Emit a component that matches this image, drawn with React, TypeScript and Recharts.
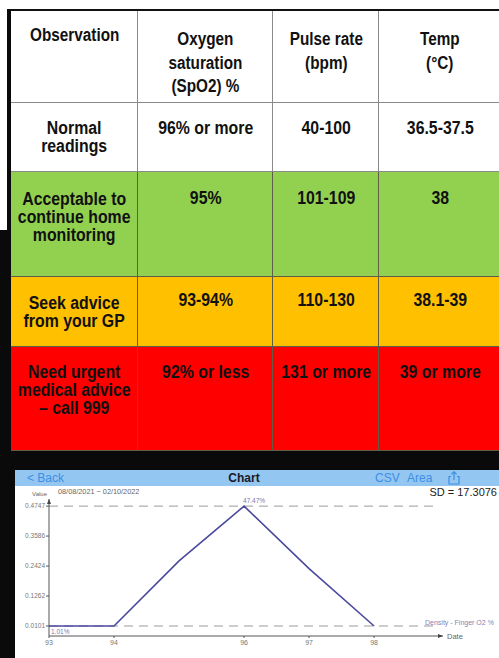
import React from 'react';
import { LineChart, Line, XAxis, YAxis, ReferenceLine, LabelList } from 'recharts';

// ---------- table content ----------
const headers = ['Observation', 'Oxygen\nsaturation\n(SpO2) %', 'Pulse rate\n(bpm)', 'Temp\n(°C)'];
const rowLabels = [
  'Normal\nreadings',
  'Acceptable to\ncontinue home\nmonitoring',
  'Seek advice\nfrom your GP',
  'Need urgent\nmedical advice\n– call 999',
];
const spo2Values = ['96% or more', '95%', '93-94%', '92% or less'];
const pulseValues = ['40-100', '101-109', '110-130', '131 or more'];
const tempValues = ['36.5-37.5', '38', '38.1-39', '39 or more'];

// ---------- chart content ----------
const o2Levels = [93, 94, 95, 96, 97, 98];
const density = [0.0101, 0.0101, 0.2626, 0.4747, 0.2323, 0.0101];
const xTicks = [93, 94, 96, 97, 98];
const yTicks = [0.0101, 0.1262, 0.2424, 0.3586, 0.4747];
const refLevels = [0.4747, 0.0101];
const seriesName = 'Density - Finger O2 %';
const dateRange = '08/08/2021 ~ 02/10/2022';
const sdText = 'SD = 17.3076';
const navItems = ['< Back', 'Chart', 'CSV', 'Area'];

// ---------- layout / styles ----------
const colEdges = [11, 138, 273, 379, 501];
const rowEdges = [10, 103, 172, 277, 347, 451];
const rowColors = ['#ffffff', '#ffffff', '#92d050', '#ffc000', '#fe0000'];
const tableFont = "'Liberation Sans', Arial, sans-serif";
const appFont = "'Liberation Sans', Arial, Helvetica, sans-serif";
const labelPad = [16, 18, 17, 16];
const valuePad = [16, 17, 14, 16];

const data = o2Levels.map((x, i) => ({ x, y: density[i] }));
const maxVal = Math.max(...density);

function Cell({ r, c, text }: { r: number; c: number; text: string }) {
  const left = colEdges[c];
  const top = rowEdges[r];
  const w = colEdges[c + 1] - left;
  const h = rowEdges[r + 1] - top;
  const isHeader = r === 0;
  const lh = isHeader ? 23.5 : 18;
  const pad = isHeader ? (c === 0 ? 14 : 18) : c === 0 ? labelPad[r - 1] : valuePad[r - 1];
  const scale = isHeader ? 0.85 : 0.88;
  const innerW = w / scale + 40;
  const lineCol = r >= 2 ? '#5e5e48' : '#8a8a8a';
  return (
    <div
      style={{
        position: 'absolute',
        left,
        top,
        width: w,
        height: h,
        boxSizing: 'border-box',
        background: rowColors[r],
        borderRight: '1px solid ' + lineCol,
        borderBottom: '1px solid ' + lineCol,
        paddingTop: pad,
        overflow: 'hidden',
      }}
    >
      <div
        style={{
          width: innerW,
          marginLeft: (w - innerW) / 2,
          transform: `scaleX(${scale})`,
          transformOrigin: 'center top',
          textAlign: 'center',
          whiteSpace: 'pre',
          fontFamily: tableFont,
          fontWeight: 700,
          fontSize: 18,
          lineHeight: lh + 'px',
          color: '#111',
        }}
      >
        {text}
      </div>
    </div>
  );
}

const XAxisArrow = (props: any) => {
  const vb = props.viewBox || {};
  const x = vb.x + vb.width;
  const y = vb.y;
  return (
    <g>
      <polygon points={`${x},${y} ${x - 5},${y - 2} ${x - 5},${y + 2}`} fill="#444" />
      <text x={x + 4} y={y + 2.5} fontSize={7.5} fill="#666" fontFamily={appFont}>
        Date
      </text>
    </g>
  );
};

const YAxisArrow = (props: any) => {
  const vb = props.viewBox || {};
  const x = vb.x + vb.width;
  const y = vb.y;
  return (
    <g>
      <polygon points={`${x},${y} ${x - 2},${y + 5} ${x + 2},${y + 5}`} fill="#444" />
      <text x={x - 2} y={y - 3} fontSize={6} fill="#666" textAnchor="end" fontFamily={appFont}>
        Value
      </text>
    </g>
  );
};

const PointLabel = (props: any) => {
  const { x, y, value, index } = props;
  if (index === 0) {
    return (
      <text x={x + 2} y={y + 8} fontSize={6.5} fill="#7a78b0" fontFamily={appFont}>
        {(value * 100).toFixed(2) + '%'}
      </text>
    );
  }
  if (value === maxVal) {
    return (
      <text x={x - 1} y={y - 3} fontSize={6.5} fill="#7a78b0" fontFamily={appFont}>
        {(value * 100).toFixed(2) + '%'}
      </text>
    );
  }
  return null;
};

function ShareIcon() {
  return (
    <svg width={12} height={14} viewBox="0 0 12 14" style={{ position: 'absolute', left: 448, top: 471 }}>
      <path d="M3 5.5 H1 V13 H11 V5.5 H9" fill="none" stroke="#3d8fe6" strokeWidth={1.2} />
      <path d="M6 0.8 V9" fill="none" stroke="#3d8fe6" strokeWidth={1.2} />
      <path d="M3.5 3.2 L6 0.8 L8.5 3.2" fill="none" stroke="#3d8fe6" strokeWidth={1.2} />
    </svg>
  );
}

export default function App() {
  const cells: React.ReactNode[] = [];
  headers.forEach((h, c) => cells.push(<Cell key={'h' + c} r={0} c={c} text={h} />));
  rowLabels.forEach((lab, i) => {
    const r = i + 1;
    cells.push(<Cell key={'l' + i} r={r} c={0} text={lab} />);
    cells.push(<Cell key={'s' + i} r={r} c={1} text={spo2Values[i]} />);
    cells.push(<Cell key={'p' + i} r={r} c={2} text={pulseValues[i]} />);
    cells.push(<Cell key={'t' + i} r={r} c={3} text={tempValues[i]} />);
  });

  return (
    <div
      style={{
        position: 'absolute',
        left: 0,
        top: 0,
        width: 499,
        height: 658,
        overflow: 'hidden',
        background: '#ffffff',
      }}
    >
      {/* table */}
      {cells}
      {/* table top border */}
      <div style={{ position: 'absolute', left: 7, top: 9, width: 500, height: 2, background: '#111' }} />
      {/* left thick border */}
      <div style={{ position: 'absolute', left: 7, top: 9, width: 4, height: 230, background: '#0a0a0a' }} />
      <div style={{ position: 'absolute', left: 0, top: 230, width: 11, height: 430, background: '#0a0a0a' }} />
      {/* dark band below table */}
      <div style={{ position: 'absolute', left: 0, top: 451, width: 499, height: 207, background: '#0a0a0a' }} />

      {/* app panel */}
      <div style={{ position: 'absolute', left: 15, top: 470, width: 484, height: 188, background: '#ffffff' }} />
      <div style={{ position: 'absolute', left: 15, top: 470, width: 484, height: 16, background: '#93c6f1' }} />
      <div style={{ position: 'absolute', left: 27, top: 471, fontFamily: appFont, fontSize: 12, color: '#3d8fe6', lineHeight: '14px' }}>
        {navItems[0]}
      </div>
      <div
        style={{
          position: 'absolute',
          left: 214,
          width: 60,
          top: 471,
          textAlign: 'center',
          fontFamily: appFont,
          fontSize: 12,
          fontWeight: 700,
          color: '#1a1a2a',
          lineHeight: '14px',
        }}
      >
        {navItems[1]}
      </div>
      <div style={{ position: 'absolute', left: 375, top: 471, fontFamily: appFont, fontSize: 12, color: '#3d8fe6', lineHeight: '14px' }}>
        {navItems[2]}
      </div>
      <div style={{ position: 'absolute', left: 407, top: 471, fontFamily: appFont, fontSize: 12, color: '#3d8fe6', lineHeight: '14px' }}>
        {navItems[3]}
      </div>
      <ShareIcon />
      <div style={{ position: 'absolute', left: 58, top: 487, fontFamily: appFont, fontSize: 7.3, color: '#666', lineHeight: '9px' }}>
        {dateRange}
      </div>
      <div style={{ position: 'absolute', right: 2, top: 486, fontFamily: appFont, fontSize: 11, color: '#222', lineHeight: '13px' }}>
        {sdText}
      </div>
      <div style={{ position: 'absolute', left: 425, top: 618, fontFamily: appFont, fontSize: 7, color: '#8583b3', lineHeight: '9px', whiteSpace: 'nowrap' }}>
        {seriesName}
      </div>

      <div style={{ position: 'absolute', left: 15, top: 487 }}>
        <LineChart width={484} height={171} data={data} margin={{ top: 12, right: 56, bottom: 0, left: 0 }}>
          <XAxis
            type="number"
            dataKey="x"
            domain={[93, 99.06]}
            ticks={xTicks}
            allowDataOverflow
            height={22}
            axisLine={{ stroke: '#555', strokeWidth: 1 }}
            tickLine={{ stroke: '#555' }}
            tickSize={2}
            tickMargin={2}
            tick={{ fontSize: 7, fill: '#777', fontFamily: appFont }}
            label={{ content: XAxisArrow }}
          />
          <YAxis
            type="number"
            domain={[-0.0287, 0.5023]}
            ticks={yTicks}
            allowDataOverflow
            width={34}
            axisLine={{ stroke: '#555', strokeWidth: 1 }}
            tickLine={{ stroke: '#555' }}
            tickSize={3}
            tickMargin={1}
            tick={{ fontSize: 6.5, fill: '#777', fontFamily: appFont }}
            tickFormatter={(v: number) => v.toFixed(4)}
            label={{ content: YAxisArrow }}
          />
          {refLevels.map((v) => (
            <ReferenceLine
              key={v}
              segment={[
                { x: 93, y: v },
                { x: 98.98, y: v },
              ]}
              stroke="#9a9a9a"
              strokeWidth={1}
              strokeDasharray="9 6"
            />
          ))}
          <Line
            type="linear"
            dataKey="y"
            stroke="#4b4a9e"
            strokeWidth={1.6}
            dot={false}
            isAnimationActive={false}
          >
            <LabelList dataKey="y" content={PointLabel} />
          </Line>
        </LineChart>
      </div>
    </div>
  );
}
